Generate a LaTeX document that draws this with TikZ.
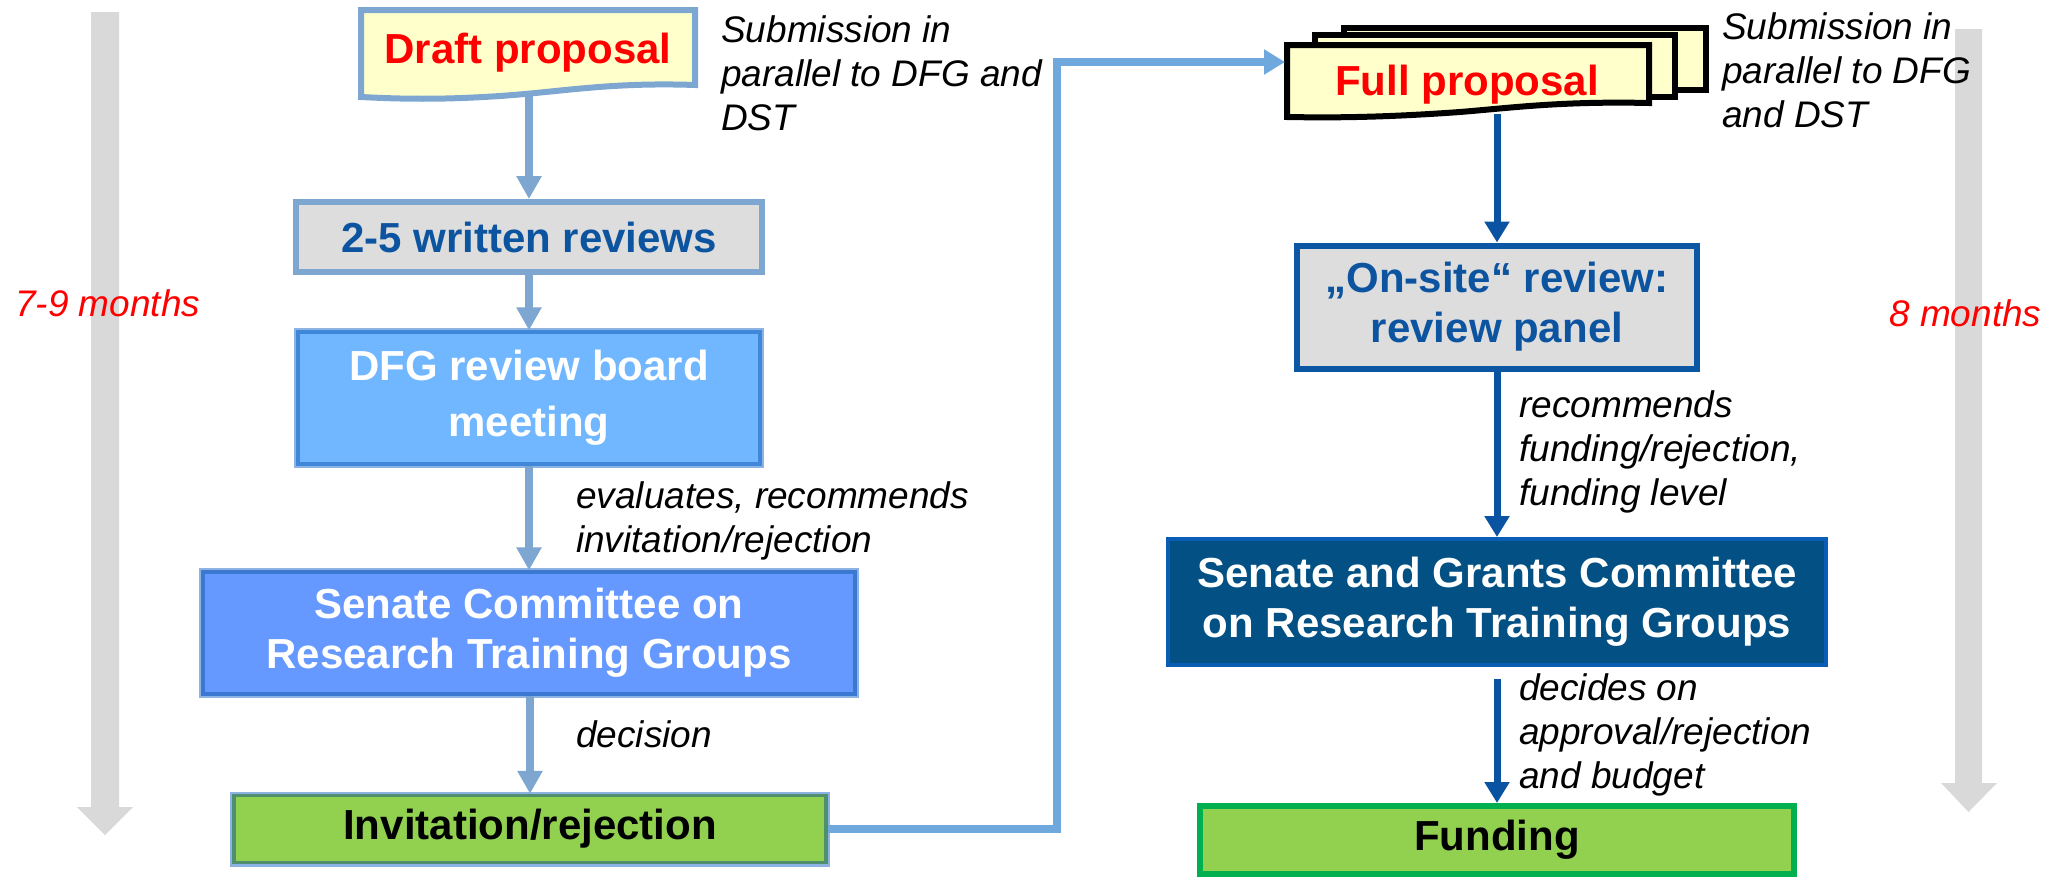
\documentclass[tikz,border=0pt]{standalone}
\usepackage{fontspec}
\setmainfont{Liberation Sans}
\usetikzlibrary{arrows.meta}
\definecolor{garrow}{RGB}{217,217,217}
\definecolor{docyel}{RGB}{255,255,204}
\definecolor{boxgray}{RGB}{221,221,221}
\definecolor{lblue}{RGB}{125,166,208}
\definecolor{connc}{RGB}{111,168,220}
\definecolor{rblue}{RGB}{10,82,162}
\definecolor{txtblue}{RGB}{12,84,160}
\definecolor{dfgfill}{RGB}{113,183,255}
\definecolor{dfginner}{RGB}{63,135,216}
\definecolor{senfill}{RGB}{102,153,255}
\definecolor{seninner}{RGB}{58,120,210}
\definecolor{outerb}{RGB}{141,179,226}
\definecolor{grnfill}{RGB}{146,208,80}
\definecolor{grninner}{RGB}{79,143,110}
\definecolor{grnb}{RGB}{0,176,80}
\definecolor{sgcfill}{RGB}{2,80,132}
\definecolor{sgcb}{RGB}{10,93,180}
\definecolor{onsiteb}{RGB}{11,87,164}
\tikzset{
  bx/.style={rectangle, inner sep=0pt, align=center, font=\bfseries\fontsize{42}{50}\selectfont},
  dbl/.style 2 args={preaction={draw=#1, line width=8pt}, draw=#2, line width=3.5pt},
  lbl/.style={inner sep=0pt, align=left, font=\itshape\fontsize{37}{44}\selectfont},
  mlbl/.style={lbl, text=red},
  doctxt/.style={inner sep=0pt, text=red, font=\bfseries\fontsize{42}{50}\selectfont},
  larr/.style={draw=lblue, line width=8pt, -{Triangle[width=24pt,length=23pt]}},
  rarr/.style={draw=rblue, line width=7pt, -{Triangle[width=24pt,length=21pt]}},
  conn/.style={draw=connc, line width=8pt, -{Triangle[width=24pt,length=21pt]}},
  draftdoc/.style={draw=lblue, fill=docyel, line width=6pt},
  fulldoc/.style={draw=black, fill=docyel, line width=6pt},
  tarrow/.style={fill=garrow}
}
\begin{document}
\begin{tikzpicture}[x=1pt,y=-1pt]
\useasboundingbox (0,0) rectangle (2056,878);
% time arrows
\fill[tarrow] (91,12) -- (119,12) -- (119,807) -- (133,807) -- (105,835) -- (77,807) -- (91,807) -- cycle;
\fill[tarrow] (1955,29) -- (1982,29) -- (1982,783) -- (1997,783) -- (1968.5,812) -- (1941,783) -- (1955,783) -- cycle;
\node[mlbl, anchor=base west] (m1) at (15,316) {7-9 months};
\node[mlbl, anchor=base west] (m2) at (1889,326) {8 months};
% draft proposal
\draw[draftdoc] (361,10) -- (695,10) -- (695,85) .. controls (610,82) and (560,92) .. (500,96) .. controls (440,100) and (400,99) .. (361,97) -- cycle;
\node[doctxt, anchor=base] (draft) at (528,63) {Draft proposal};
\coordinate (draftbot) at (529,95);
\node[lbl, anchor=base west] (sub1) at (721,130) {Submission in\\parallel to DFG and\\DST};
% left column
\node[bx, fill=boxgray, draw=lblue, line width=6pt, text=txtblue, minimum width=466pt, minimum height=70pt] (rev) at (529,237) {2-5 written reviews};
\node[bx, fill=dfgfill, dbl={outerb}{dfginner}, text=white, minimum width=462pt, minimum height=132pt, font=\bfseries\fontsize{42}{56}\selectfont] (dfg) at (529,398) {DFG review board\\meeting};
\node[bx, fill=senfill, dbl={outerb}{seninner}, text=white, minimum width=652pt, minimum height=122pt] (sen) at (529,633) {Senate Committee on\\Research Training Groups};
\node[bx, fill=grnfill, dbl={outerb}{grninner}, text=black, minimum width=592pt, minimum height=67pt] (inv) at (530,829) {Invitation/rejection};
\draw[larr] (draftbot) -- (rev.north);
\draw[larr] (rev.south) -- (dfg.north);
\draw[larr] (dfg.south) -- (sen.north);
\draw[larr] (sen.south -| inv.north) -- (inv.north);
\node[lbl, anchor=base west] (lab1) at (576,552) {evaluates, recommends\\invitation/rejection};
\node[lbl, anchor=base west] (lab2) at (576,747) {decision};
% full proposal
\draw[fulldoc] (1344,28) rectangle (1706,90);
\draw[fulldoc] (1315,35) rectangle (1675,97);
\draw[fulldoc] (1287,45) -- (1649,45) -- (1649,103) .. controls (1560,101) and (1510,108) .. (1460,112) .. controls (1390,117) and (1340,118) .. (1287,117) -- cycle;
\node[doctxt, anchor=base] (full) at (1467,95) {Full proposal};
\coordinate (fullin) at (1285,62);
\coordinate (fullbot) at (1497,114);
\node[lbl, anchor=base west] (sub2) at (1722,127) {Submission in\\parallel to DFG\\and DST};
% connector
\coordinate (bend) at (1057,62);
\draw[conn] (inv.east) -| (bend) -- (fullin);
% right column
\node[bx, fill=boxgray, draw=onsiteb, line width=6pt, text=txtblue, minimum width=400pt, minimum height=123pt] (onsite) at (1497,307) {„On-site“ review:\\review panel};
\node[bx, fill=sgcfill, draw=sgcb, line width=4pt, text=white, minimum width=658pt, minimum height=126pt] (sgc) at (1497,602) {Senate and Grants Committee\\on Research Training Groups};
\node[bx, fill=grnfill, draw=grnb, line width=6pt, text=black, minimum width=594pt, minimum height=68pt] (fund) at (1497,840) {Funding};
\draw[rarr] (fullbot) -- (onsite.north);
\draw[rarr] (onsite.south) -- (sgc.north);
\draw[rarr, shorten <=12pt] (sgc.south) -- (fund.north);
\node[lbl, anchor=base west] (lab3) at (1519,505) {recommends\\funding/rejection,\\funding level};
\node[lbl, anchor=base west] (lab4) at (1519,788) {decides on\\approval/rejection\\and budget};
\end{tikzpicture}
\end{document}
